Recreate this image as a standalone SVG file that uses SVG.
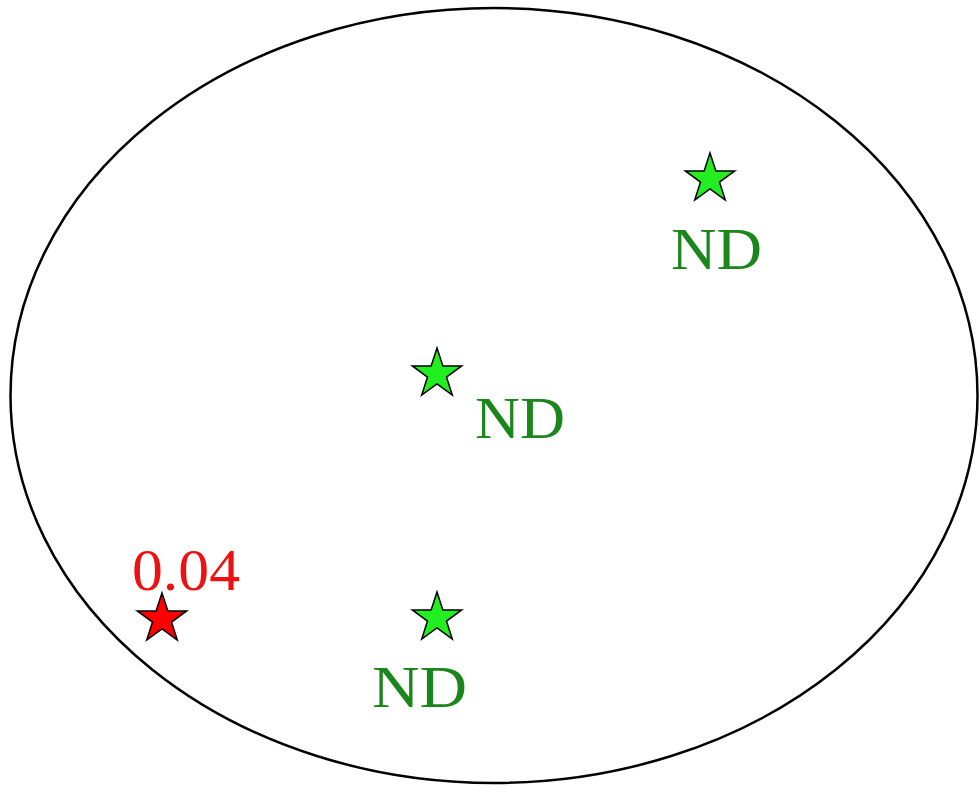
<svg xmlns="http://www.w3.org/2000/svg" xmlns:xlink="http://www.w3.org/1999/xlink" width="979" height="787" viewBox="0 0 979 787">
<style>
.bg{fill:#ffffff}
.boundary{fill:none;stroke:#000000;stroke-width:2.5}
.star{stroke:#000000;stroke-width:1.5;stroke-linejoin:miter}
.g{fill:#22ee22}
.r{fill:#ff0000}
.lbl{font-family:"Liberation Serif","Times New Roman",serif;font-size:59px}
.lg{fill:#1b861b}
.lr{fill:#ee1111}
</style>
<defs>
<path id="star" d="M0,-26 L5.88,-8.09 L24.73,-8.03 L9.51,3.09 L15.28,21.03 L0,10 L-15.28,21.03 L-9.51,3.09 L-24.73,-8.03 L-5.88,-8.09 Z"/>
</defs>
<rect class="bg" x="0" y="0" width="979" height="787"/>
<ellipse id="boundary" class="boundary" cx="494" cy="395.5" rx="483.5" ry="387.5"/>
<g id="connectors"></g>
<g id="node-nd-1">
<use href="#star" xlink:href="#star" class="star g" transform="translate(710,179)"/>
<text class="lbl lg" x="671" y="269" textLength="91" lengthAdjust="spacingAndGlyphs">ND</text>
</g>
<g id="node-nd-2">
<use href="#star" xlink:href="#star" class="star g" transform="translate(437,374)"/>
<text class="lbl lg" x="475" y="438" textLength="90" lengthAdjust="spacingAndGlyphs">ND</text>
</g>
<g id="node-nd-3">
<use href="#star" xlink:href="#star" class="star g" transform="translate(437,618)"/>
<text class="lbl lg" x="372" y="707" textLength="95" lengthAdjust="spacingAndGlyphs">ND</text>
</g>
<g id="node-004">
<use href="#star" xlink:href="#star" class="star r" transform="translate(162,619)"/>
<text class="lbl lr" x="132" y="590" textLength="108" lengthAdjust="spacingAndGlyphs">0.04</text>
</g>
</svg>
